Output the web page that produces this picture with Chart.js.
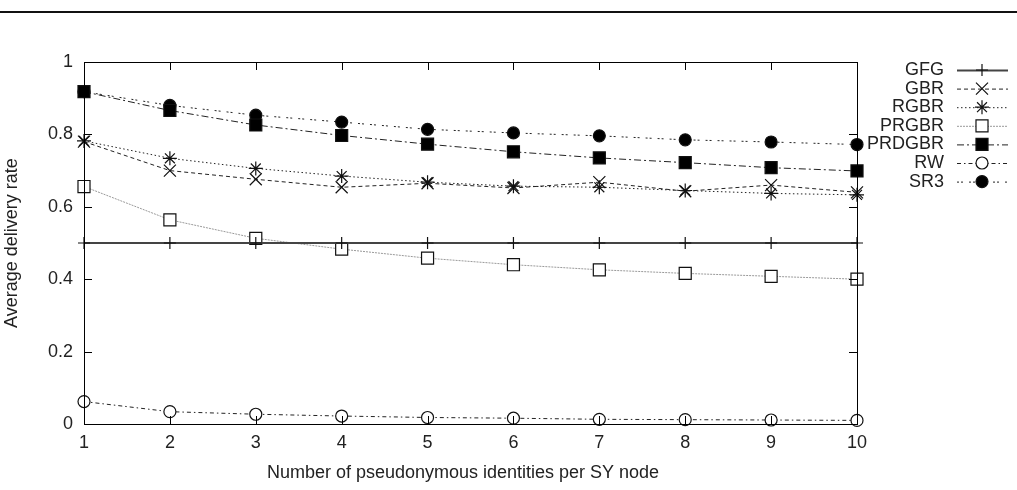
<!DOCTYPE html>
<html>
<head>
<meta charset="utf-8">
<script src="https://cdn.jsdelivr.net/npm/chart.js"></script>
<style>
  html, body { margin: 0; padding: 0; background: #fff; }
  #chart { display: block; }
</style>
</head>
<body>
<canvas id="chart" width="1017" height="490"></canvas>
<script>
// values
let identities = [1, 2, 3, 4, 5, 6, 7, 8, 9, 10];
let gfg = [0.5, 0.5, 0.5, 0.5, 0.5, 0.5, 0.5, 0.5, 0.5, 0.5];
let gbr = [0.780, 0.700, 0.676, 0.654, 0.665, 0.652, 0.668, 0.643, 0.660, 0.640];
let rgbr = [0.782, 0.734, 0.706, 0.685, 0.668, 0.657, 0.654, 0.645, 0.637, 0.633];
let prgbr = [0.656, 0.564, 0.513, 0.483, 0.458, 0.440, 0.426, 0.416, 0.408, 0.400];
let prdgbr = [0.918, 0.866, 0.826, 0.797, 0.773, 0.752, 0.735, 0.722, 0.708, 0.699];
let rw = [0.062, 0.034, 0.027, 0.022, 0.018, 0.016, 0.013, 0.012, 0.011, 0.010];
let sr3 = [0.918, 0.880, 0.853, 0.834, 0.814, 0.804, 0.796, 0.785, 0.779, 0.772];
let seriesNames = ['GFG', 'GBR', 'RGBR', 'PRGBR', 'PRDGBR', 'RW', 'SR3'];

const FONT = '"Liberation Sans", Arial, Helvetica, sans-serif';
const TEXT = '#222';
const FSIZE = 18;

function points(vals) {
  return vals.map((v, i) => ({ x: identities[i], y: v }));
}

function series(name, vals, style) {
  return Object.assign({
    label: name,
    data: points(vals),
    borderColor: '#222',
    borderWidth: 1,
    pointBorderColor: '#111',
    pointBorderWidth: 1.2,
    pointBackgroundColor: '#fff',
    fill: false,
    tension: 0,
    clip: false,
  }, style);
}

let datasets = [
  series(seriesNames[0], gfg, { borderColor: '#444', borderWidth: 2, borderDash: [], pointStyle: 'cross', pointRadius: 6 }),
  series(seriesNames[1], gbr, { borderDash: [4, 3], pointStyle: 'crossRot', pointRadius: 8.5 }),
  series(seriesNames[2], rgbr, { borderDash: [1.5, 2.5], pointStyle: 'star', pointRadius: 7 }),
  series(seriesNames[3], prgbr, { borderColor: '#999', borderDash: [2, 1], pointStyle: 'rect', pointRadius: 8.5 }),
  series(seriesNames[4], prdgbr, { borderDash: [7, 3, 2, 3], pointStyle: 'rect', pointRadius: 8.5, pointBackgroundColor: '#000' }),
  series(seriesNames[5], rw, { borderDash: [4, 3, 1.5, 3], pointStyle: 'circle', pointRadius: 6 }),
  series(seriesNames[6], sr3, { borderDash: [2, 2, 2, 6], pointStyle: 'circle', pointRadius: 6, pointBackgroundColor: '#000' }),
];

// gnuplot style frame: box, inward ticks, rule on top, key on the right
const framePlugin = {
  id: 'frame',
  afterDatasetsDraw(chart) {
    const ctx = chart.ctx;
    const a = chart.chartArea;
    const xs = chart.scales.x;
    const ys = chart.scales.y;
    const tl = 8;
    ctx.save();
    ctx.strokeStyle = '#000';
    ctx.lineWidth = 1;
    ctx.setLineDash([]);
    ctx.strokeRect(Math.round(a.left) + 0.5, Math.round(a.top) + 0.5, Math.round(a.right - a.left), Math.round(a.bottom - a.top));
    ctx.beginPath();
    xs.ticks.forEach((t) => {
      let px = Math.round(xs.getPixelForValue(t.value)) + 0.5;
      ctx.moveTo(px, a.bottom);
      ctx.lineTo(px, a.bottom - tl);
      ctx.moveTo(px, a.top);
      ctx.lineTo(px, a.top + tl);
    });
    ys.ticks.forEach((t) => {
      let py = Math.round(ys.getPixelForValue(t.value)) + 0.5;
      ctx.moveTo(a.left, py);
      ctx.lineTo(a.left + tl, py);
      ctx.moveTo(a.right, py);
      ctx.lineTo(a.right - tl, py);
    });
    ctx.stroke();

    // horizontal rule near the top
    ctx.strokeStyle = '#111';
    ctx.lineWidth = 2;
    ctx.beginPath();
    ctx.moveTo(0, 12);
    ctx.lineTo(chart.width, 12);
    ctx.stroke();

    // key
    ctx.font = FSIZE + 'px ' + FONT;
    ctx.textAlign = 'right';
    ctx.textBaseline = 'middle';
    chart.data.datasets.forEach((ds, i) => {
      let y = 70 + i * 18.6;
      ctx.fillStyle = TEXT;
      ctx.fillText(ds.label, 944, y);
      ctx.strokeStyle = ds.borderColor;
      ctx.lineWidth = ds.borderWidth;
      ctx.setLineDash(ds.borderDash || []);
      ctx.beginPath();
      ctx.moveTo(957, y + 0.5);
      ctx.lineTo(1008, y + 0.5);
      ctx.stroke();
      ctx.setLineDash([]);
      if (Chart.helpers && Chart.helpers.drawPoint) {
        ctx.strokeStyle = ds.pointBorderColor;
        ctx.fillStyle = ds.pointBackgroundColor;
        ctx.lineWidth = ds.pointBorderWidth;
        Chart.helpers.drawPoint(ctx, {
          pointStyle: ds.pointStyle,
          radius: ds.pointRadius,
          rotation: 0,
          borderWidth: ds.pointBorderWidth,
        }, 982, y);
      }
    });
    ctx.restore();
  },
};

const ctx = document.getElementById('chart').getContext('2d');
let chart = new Chart(ctx, {
  type: 'line',
  data: { datasets: datasets },
  options: {
    responsive: false,
    animation: false,
    layout: { padding: { top: 62, right: 160, left: 0, bottom: 0 } },
    plugins: { legend: { display: false }, tooltip: { enabled: false } },
    scales: {
      x: {
        type: 'linear',
        min: 1,
        max: 10,
        afterFit: (scale) => { scale.height = 66; },
        ticks: { stepSize: 1, padding: 8, color: TEXT, font: { family: FONT, size: FSIZE }, maxRotation: 0 },
        grid: { display: false, drawTicks: false, tickLength: 0 },
        border: { display: false },
        // trailing spaces nudge the centred title a little to the left, like the original
        title: { display: true, text: 'Number of pseudonymous identities per SY node   ', color: TEXT, font: { family: FONT, size: FSIZE }, padding: { top: 0, bottom: 6 } },
      },
      y: {
        min: 0,
        max: 1,
        afterFit: (scale) => { scale.width = 84; },
        ticks: {
          stepSize: 0.2,
          padding: 11,
          color: TEXT,
          font: { family: FONT, size: FSIZE },
          callback: (v) => String(Math.round(v * 10) / 10),
        },
        grid: { display: false, drawTicks: false, tickLength: 0 },
        border: { display: false },
        title: { display: true, text: 'Average delivery rate', color: TEXT, font: { family: FONT, size: FSIZE }, padding: { top: 1, bottom: 0 } },
      },
    },
  },
  plugins: [framePlugin],
});
</script>
</body>
</html>
